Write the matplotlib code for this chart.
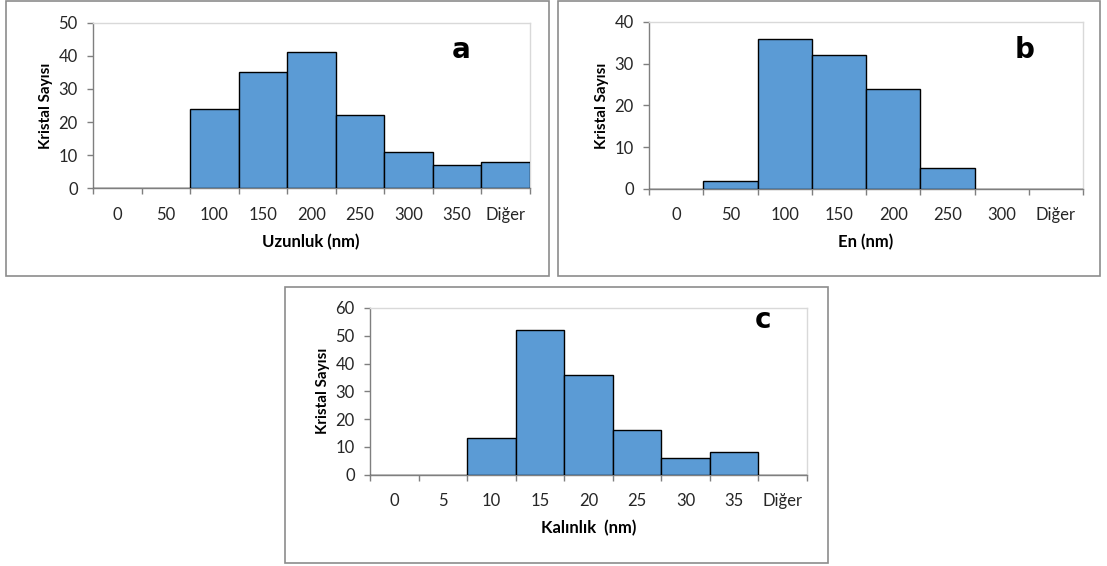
import matplotlib
matplotlib.use("Agg")
import matplotlib.pyplot as plt
from matplotlib.patches import Rectangle

plt.rcParams['font.family'] = ['Lato', 'DejaVu Sans']

cats_a = ["0", "50", "100", "150", "200", "250", "300", "350", "Diğer"]
vals_a = [0, 0, 24, 35, 41, 22, 11, 7, 8]
cats_b = ["0", "50", "100", "150", "200", "250", "300", "Diğer"]
vals_b = [0, 2, 36, 32, 24, 5, 0, 0]
cats_c = ["0", "5", "10", "15", "20", "25", "30", "35", "Diğer"]
vals_c = [0, 0, 13, 52, 36, 16, 6, 8, 0]

W, H = 1107, 566
fig = plt.figure(figsize=(W / 100, H / 100), dpi=100)

def px_axes(l, t, r, b):
    return fig.add_axes([l / W, 1 - b / H, (r - l) / W, (b - t) / H])

def box(l, t, r, b):
    fig.patches.append(Rectangle((l / W, 1 - b / H), (r - l) / W, (b - t) / H,
                                 transform=fig.transFigure, fill=False,
                                 edgecolor="#8c8c8c", linewidth=1.2))

def panel(ax, cats, vals, ymax, ystep, xlabel, letter, lx, ly):
    n = len(cats)
    pos = list(range(n))
    ax.bar(pos, vals, width=1.0, color="#5B9BD5", edgecolor="black", linewidth=1.0, zorder=3)
    ax.set_xlim(-0.5, n - 0.5)
    ax.set_ylim(0, ymax)
    ax.set_yticks(list(range(0, ymax + 1, ystep)))
    ax.set_xticks([i - 0.5 for i in range(n + 1)])
    ax.set_xticklabels([])
    ax.set_xticks(pos, minor=True)
    ax.set_xticklabels(cats, minor=True)
    ax.tick_params(axis='x', which='minor', length=0, pad=13, labelsize=12, colors="#262626")
    ax.tick_params(axis='x', which='major', length=4, width=1, color="#7f7f7f", direction='out')
    ax.tick_params(axis='y', length=4, width=1, color="#7f7f7f", pad=7, labelsize=12, labelcolor="#262626")
    for s in ['left', 'bottom']:
        ax.spines[s].set_color("#7f7f7f")
        ax.spines[s].set_linewidth(1.0)
    for s in ['top', 'right']:
        ax.spines[s].set_color("#d9d9d9")
        ax.spines[s].set_linewidth(1.0)
    ax.set_xlabel(xlabel, fontsize=12, fontweight='bold', labelpad=8)
    ax.set_ylabel("Kristal Sayısı", fontsize=11, fontweight='bold', labelpad=4)
    ax.text(lx, ly, letter, transform=ax.transAxes, fontsize=20, fontweight='bold',
            ha='center', va='center', family=['DejaVu Sans'])

box(6, 1, 549, 276)
box(558, 1, 1100, 276)
box(285, 287, 828, 563)

ax_a = px_axes(93, 22.5, 529.5, 188.5)
panel(ax_a, cats_a, vals_a, 50, 10, "Uzunluk (nm)", "a", 0.843, 0.834)
ax_b = px_axes(649, 22, 1083, 189)
panel(ax_b, cats_b, vals_b, 40, 10, "En (nm)", "b", 0.866, 0.83)
ax_c = px_axes(370, 308, 807, 474.5)
panel(ax_c, cats_c, vals_c, 60, 10, "Kalınlık  (nm)", "c", 0.899, 0.928)

fig.savefig("out.png", dpi=100)
